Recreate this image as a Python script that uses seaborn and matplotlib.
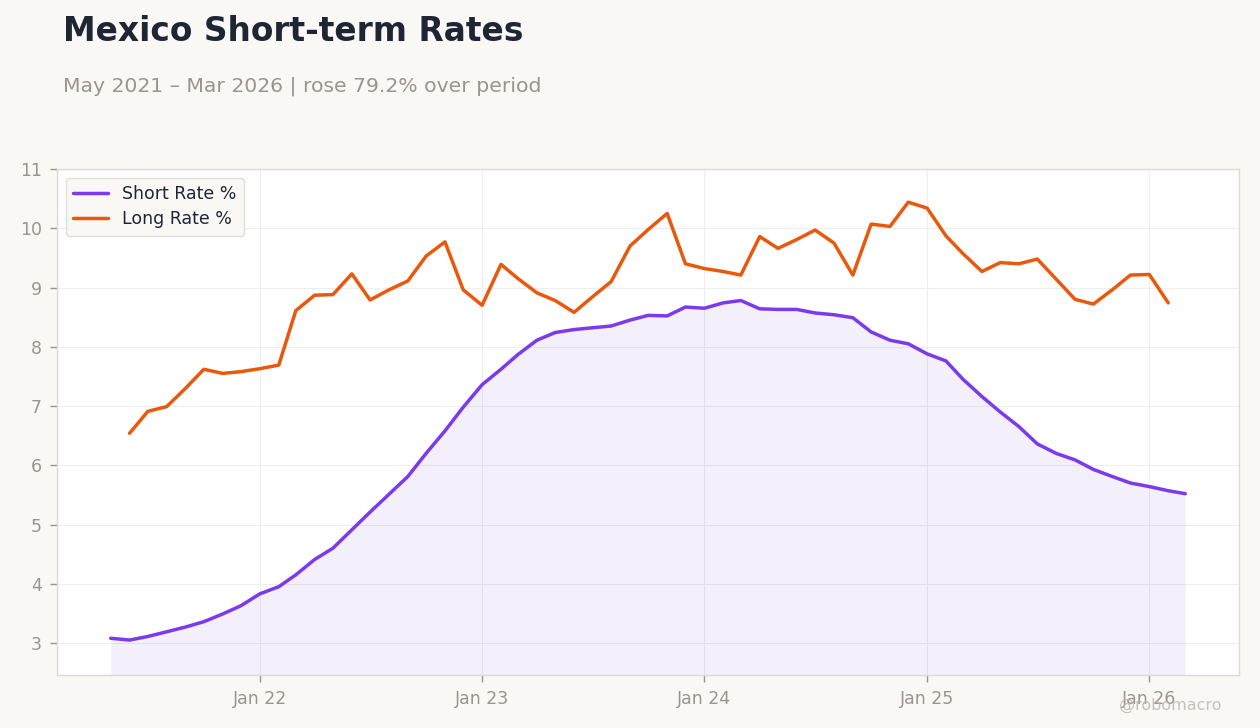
import matplotlib
matplotlib.use("Agg")
import matplotlib.pyplot as plt
import matplotlib.dates as mdates
import seaborn as sns
import pandas as pd
import numpy as np

# ---- data ----
short_start = "2021-05-01"
short_rate = [3.08, 3.05, 3.11, 3.19, 3.27, 3.36, 3.49, 3.63,
              3.83, 3.95, 4.15, 4.41, 4.60, 4.91, 5.21, 5.51, 5.81, 6.20, 6.58, 6.98,
              7.36, 7.62, 7.87, 8.11, 8.24, 8.29, 8.32, 8.35, 8.45, 8.53, 8.52, 8.67,
              8.65, 8.74, 8.78, 8.64, 8.63, 8.63, 8.57, 8.54, 8.49, 8.25, 8.11, 8.05,
              7.88, 7.76, 7.45, 7.16, 6.90, 6.65, 6.36, 6.20, 6.09, 5.93, 5.81, 5.70,
              5.64, 5.57, 5.52]
long_start = "2021-06-01"
long_rate = [6.54, 6.91, 6.99, 7.30, 7.62, 7.55, 7.58,
             7.63, 7.69, 8.61, 8.87, 8.88, 9.23, 8.79, 8.96, 9.11, 9.53, 9.77, 8.96,
             8.70, 9.39, 9.15, 8.91, 8.78, 8.58, 8.84, 9.10, 9.70, 9.98, 10.25, 9.40,
             9.32, 9.27, 9.21, 9.86, 9.66, 9.81, 9.97, 9.75, 9.21, 10.07, 10.03, 10.44,
             10.34, 9.87, 9.57, 9.27, 9.42, 9.40, 9.48, 9.14, 8.80, 8.72, 8.96, 9.21,
             9.22, 8.74]

title = "Mexico Short-term Rates"
subtitle = "May 2021 \u2013 Mar 2026 | rose 79.2% over period"
labels = ["Short Rate %", "Long Rate %"]

short_df = pd.DataFrame({"date": pd.date_range(short_start, periods=len(short_rate), freq="MS"),
                         "value": short_rate})
long_df = pd.DataFrame({"date": pd.date_range(long_start, periods=len(long_rate), freq="MS"),
                        "value": long_rate})

# ---- style ----
BG = "#f9f8f5"
PURPLE = "#7c3aed"
ORANGE = "#ea580c"
sns.set_theme(style="whitegrid")
plt.rcParams["font.family"] = ["DejaVu Sans"]

fig = plt.figure(figsize=(12.6, 7.28), dpi=100, facecolor=BG)
ax = fig.add_axes([57 / 1260, 1 - 675 / 728, (1239 - 57) / 1260, (675 - 169) / 728])
ax.set_facecolor("white")

sns.lineplot(data=short_df, x="date", y="value", ax=ax, color=PURPLE, linewidth=2.5,
             label=labels[0])
sns.lineplot(data=long_df, x="date", y="value", ax=ax, color=ORANGE, linewidth=2.5,
             label=labels[1])
ax.fill_between(short_df["date"], short_df["value"], 0, color="#7c5ce0", alpha=0.09,
                linewidth=0, zorder=1)

ax.set_ylim(2.46, 11)
ax.set_yticks(range(3, 12))
ax.xaxis.set_major_locator(mdates.YearLocator(month=1, day=1))
ax.xaxis.set_major_formatter(mdates.DateFormatter("Jan %y"))
xmin = short_df["date"].iloc[0]
xmax = short_df["date"].iloc[-1]
span = xmax - xmin
ax.set_xlim(xmin - span * 0.05, xmax + span * 0.05)

ax.set_xlabel("")
ax.set_ylabel("")
ax.grid(True, color="#eeeeee", linewidth=0.8)
for s in ax.spines.values():
    s.set_color("#dddad5")
    s.set_linewidth(1)
ax.tick_params(axis="both", colors="#999590", labelsize=12.5, length=5, width=1,
               direction="out", bottom=True, left=True, pad=6)
for lbl in ax.get_xticklabels() + ax.get_yticklabels():
    lbl.set_color("#999590")

leg = ax.legend(loc="upper left", fontsize=12.5, frameon=True, facecolor=BG,
                edgecolor="#e2ded8", framealpha=1, handlelength=2.0,
                borderpad=0.45, labelspacing=0.4, handletextpad=0.8)
for t in leg.get_texts():
    t.set_color("#1e2535")

fig.text(63 / 1260, 1 - 15 / 728, title, fontsize=23.7, fontweight="bold",
         color="#1e2535", va="top", ha="left")
fig.text(63 / 1260, 1 - 76 / 728, subtitle, fontsize=14.65, color="#999590",
         va="top", ha="left")
fig.text(1222 / 1260, 1 - 705 / 728, "@robomacro", fontsize=11.5, color="#b8b5b0",
         alpha=0.8, va="center", ha="right")

fig.savefig("out.png", dpi=100, facecolor=BG)
